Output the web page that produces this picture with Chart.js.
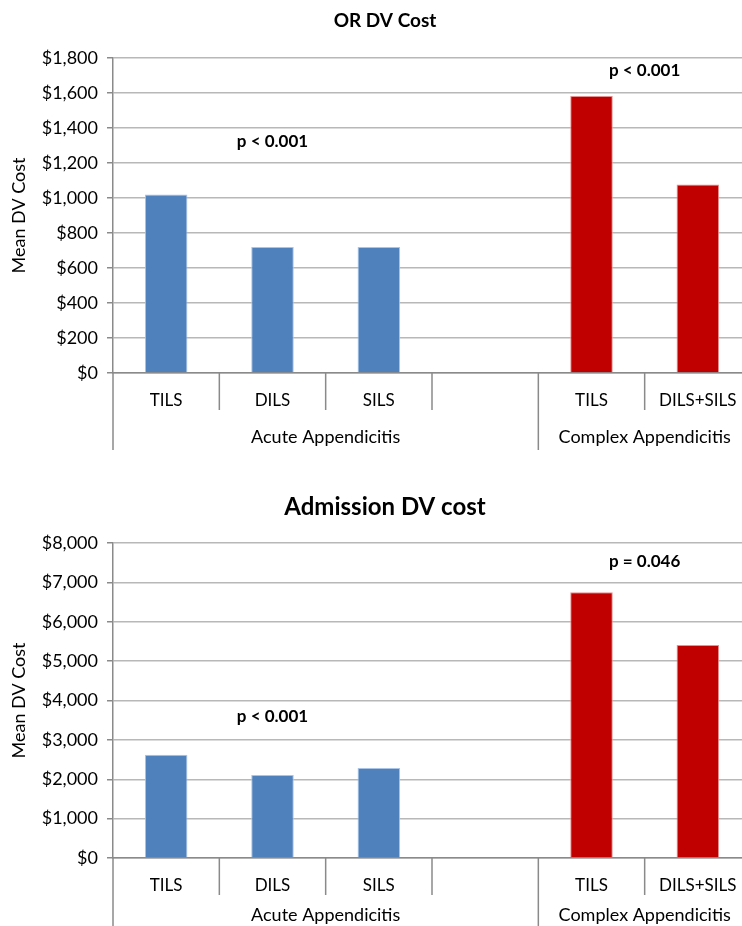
<!DOCTYPE html>
<html>
<head>
<meta charset="utf-8">
<script src="https://cdn.jsdelivr.net/npm/chart.js@4.4.1/dist/chart.umd.min.js"></script>
<style>
  html, body { margin: 0; padding: 0; background: #fff; overflow: hidden; width: 742px; height: 926px; }
  .box { position: absolute; left: 0; width: 770px; }
  #b1 { top: 0; height: 460px; }
  #b2 { top: 470px; height: 456px; }
</style>
</head>
<body>
<div class="box" id="b1"><canvas id="c1"></canvas></div>
<div class="box" id="b2"><canvas id="c2"></canvas></div>
<script>
// ---- data ----
const categories = ['TILS', 'DILS', 'SILS', '', 'TILS', 'DILS+SILS'];
const groupNames = ['Acute Appendicitis', 'Complex Appendicitis'];
const groupSizes = [4, 2];
const barColors = ['#4F81BD', '#4F81BD', '#4F81BD', '#4F81BD', '#C00000', '#C00000'];
const borderColors = ['#A9C4E6', '#A9C4E6', '#A9C4E6', '#A9C4E6', '#E89090', '#E89090'];

const orTitle = 'OR DV Cost';
const orValues = [1020, 720, 720, null, 1583, 1077];
const orMax = 1800, orStep = 200;
const orNotes = ['p < 0.001', 'p < 0.001'];
const orNoteX = [1, 4.5];       // category index
const orNoteY = [1320, 1730];   // value units

const admTitle = 'Admission DV cost';
const admValues = [2620, 2105, 2285, null, 6750, 5410];
const admMax = 8000, admStep = 1000;
const admNotes = ['p < 0.001', 'p = 0.046'];
const admNoteX = [1, 4.5];
const admNoteY = [3600, 7540];

const yTitle = 'Mean DV Cost';

const FONT = 'Lato, "Open Sans", sans-serif';
const AXIS = '#8a8a8a';
const GRID = '#b8b8b8';

const groupAxisPlugin = {
  id: 'groupAxis',
  afterDraw(chart, args, opts) {
    const ctx = chart.ctx;
    const x = chart.scales.x;
    const y = chart.scales.y;
    const half = (x.getPixelForValue(1) - x.getPixelForValue(0)) / 2;
    const bottom = chart.chartArea.bottom;
    ctx.save();
    ctx.strokeStyle = AXIS;
    ctx.lineWidth = 1.5;
    const groupEdges = [0];
    groupSizes.reduce((acc, s) => { acc += s; groupEdges.push(acc); return acc; }, 0);
    for (let i = 0; i <= categories.length; i++) {
      const px = x.getPixelForValue(i) - half;
      const isGroup = groupEdges.includes(i);
      ctx.beginPath();
      ctx.moveTo(px, bottom);
      ctx.lineTo(px, bottom + (isGroup ? opts.groupLen : opts.innerLen));
      ctx.stroke();
    }
    ctx.fillStyle = '#000';
    ctx.font = '18px ' + FONT;
    ctx.textAlign = 'center';
    ctx.textBaseline = 'middle';
    for (let g = 0; g < groupNames.length; g++) {
      const a = x.getPixelForValue(groupEdges[g]) - half;
      const b = x.getPixelForValue(groupEdges[g + 1]) - half;
      ctx.fillText(groupNames[g], (a + b) / 2, bottom + opts.groupLabelY);
    }
    ctx.font = 'bold 17px ' + FONT;
    for (let i = 0; i < opts.notes.length; i++) {
      const xi = opts.noteX[i];
      const px = x.getPixelForValue(Math.floor(xi)) + (xi - Math.floor(xi)) * 2 * half;
      ctx.fillText(opts.notes[i], px, y.getPixelForValue(opts.noteY[i]));
    }
    ctx.restore();
  }
};

function makeChart(id, title, titleSize, titlePad, values, max, step, xHeight, notes, noteX, noteY, groupLen, groupLabelY) {
  return new Chart(document.getElementById(id), {
    type: 'bar',
    data: {
      labels: categories,
      datasets: [{
        data: values,
        backgroundColor: barColors,
        borderColor: borderColors,
        borderWidth: 1,
        barPercentage: 0.4,
        categoryPercentage: 1.0
      }]
    },
    options: {
      responsive: true,
      maintainAspectRatio: false,
      animation: false,
      layout: { padding: { left: 19, right: 19, top: 0, bottom: 0 } },
      plugins: {
        legend: { display: false },
        tooltip: { enabled: false },
        title: {
          display: true,
          text: title,
          color: '#000',
          font: { family: FONT, size: titleSize, weight: 'bold', lineHeight: 1.2 },
          padding: titlePad
        },
        groupAxis: { notes, noteX, noteY, innerLen: 37, groupLen, groupLabelY }
      },
      scales: {
        x: {
          grid: { display: false, drawTicks: false },
          border: { display: true, color: AXIS, width: 1.5 },
          ticks: { color: '#000', font: { family: FONT, size: 17 }, padding: 17, maxRotation: 0, autoSkip: false },
          afterFit(scale) { scale.height = xHeight; }
        },
        y: {
          min: 0, max: max,
          grid: { color: GRID, lineWidth: 1.5, tickLength: 6, tickColor: AXIS },
          border: { display: true, color: AXIS, width: 1.5 },
          ticks: {
            stepSize: step, color: '#000', padding: 9,
            font: { family: FONT, size: 18 },
            callback: v => '$' + v.toLocaleString('en-US')
          },
          title: {
            display: true, text: yTitle, color: '#000',
            font: { family: FONT, size: 18, lineHeight: 1.2 }, padding: { top: -11, bottom: 0 }
          },
          afterFit(scale) { scale.width = 94; }
        }
      }
    },
    plugins: [groupAxisPlugin]
  });
}

makeChart('c1', orTitle, 19, { top: 9.6, bottom: 25.6 }, orValues, orMax, orStep, 87, orNotes, orNoteX, orNoteY, 77, 64);
makeChart('c2', admTitle, 24, { top: 22.6, bottom: 21.6 }, admValues, admMax, admStep, 68, admNotes, admNoteX, admNoteY, 68, 57);
</script>
</body>
</html>
